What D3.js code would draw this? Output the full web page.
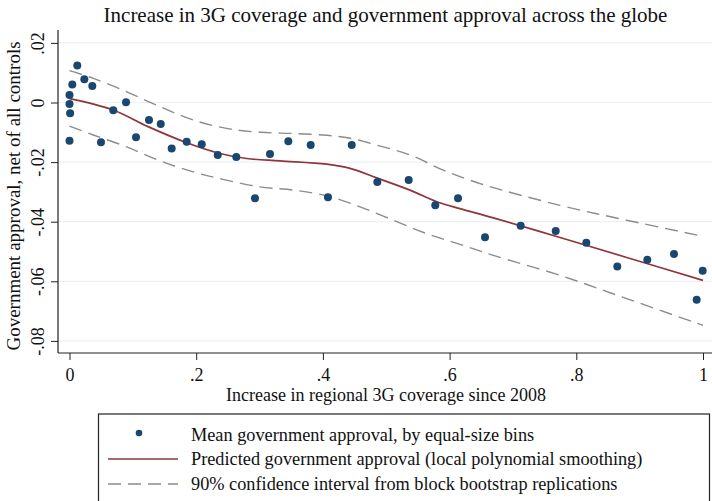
<!DOCTYPE html>
<html>
<head>
<meta charset="utf-8">
<script src="https://cdn.jsdelivr.net/npm/d3@7"></script>
<style>
  html, body { margin: 0; padding: 0; background: #fff; }
  svg { display: block; }
  text { font-family: "Liberation Serif", "Times New Roman", serif; fill: #111; }
</style>
</head>
<body>
<svg id="chart" width="712" height="501"></svg>
<script>
// ---- Data ----
const binX = [0, 0, 0.001, 0, 0.0044, 0.0123, 0.0234, 0.036, 0.0497, 0.0691, 0.0892, 0.105, 0.1255, 0.144, 0.1613, 0.185, 0.2087, 0.234, 0.2633, 0.2928, 0.3165, 0.3454, 0.3807, 0.408, 0.4455, 0.4859, 0.5354, 0.5774, 0.6133, 0.6559, 0.7122, 0.7675, 0.8158, 0.8647, 0.9121, 0.9542, 0.99, 0.9995];
const binY = [0.0025, -0.0005, -0.0036, -0.0128, 0.006, 0.0124, 0.0078, 0.0055, -0.0133, -0.0026, 0.0001, -0.0117, -0.0059, -0.0072, -0.0154, -0.0132, -0.014, -0.0176, -0.0183, -0.0321, -0.0173, -0.013, -0.0143, -0.0318, -0.0143, -0.0267, -0.026, -0.0345, -0.0321, -0.0452, -0.0414, -0.0431, -0.0471, -0.055, -0.0528, -0.0508, -0.0662, -0.0565];

const fitX = [0, 0.0687, 0.124, 0.185, 0.2376, 0.2797, 0.3323, 0.406, 0.4428, 0.4849, 0.5375, 0.5796, 0.6164, 0.669, 0.7743, 0.8796, 1.0];
const fitY = [0.0013, -0.0025, -0.0081, -0.0135, -0.0171, -0.0188, -0.0196, -0.0207, -0.0221, -0.0253, -0.0294, -0.0333, -0.0356, -0.0387, -0.0453, -0.052, -0.0597];

const upX = [0, 0.0376, 0.0903, 0.1429, 0.1954, 0.2481, 0.3007, 0.3533, 0.406, 0.4428, 0.4849, 0.5375, 0.59, 0.648, 0.7743, 0.8796, 1.0];
const upY = [0.0107, 0.0081, 0.0036, -0.0014, -0.0059, -0.0087, -0.01, -0.0104, -0.011, -0.012, -0.0143, -0.0176, -0.0227, -0.0272, -0.0345, -0.0395, -0.0449];

const loX = [0, 0.0376, 0.0903, 0.1429, 0.1954, 0.2423, 0.3007, 0.3533, 0.406, 0.4586, 0.5111, 0.5639, 0.6164, 0.669, 0.7743, 0.8796, 1.0];
const loY = [-0.0079, -0.0109, -0.0149, -0.0196, -0.0233, -0.0258, -0.0283, -0.0294, -0.0313, -0.035, -0.0395, -0.044, -0.0476, -0.0513, -0.058, -0.0658, -0.0748];

const xTicks = [0, 0.2, 0.4, 0.6, 0.8, 1];
const xTickLabels = ["0", ".2", ".4", ".6", ".8", "1"];
const yTicks = [0.02, 0, -0.02, -0.04, -0.06, -0.08];
const yTickLabels = [".02", "0", "-.02", "-.04", "-.06", "-.08"];

const titleText = "Increase in 3G coverage and government approval across the globe";
const xLabel = "Increase in regional 3G coverage since 2008";
const yLabel = "Government approval, net of all controls";
const legendLabels = [
  "Mean government approval, by equal-size bins",
  "Predicted government approval (local polynomial smoothing)",
  "90% confidence interval from block bootstrap replications"
];

// ---- Styles ----
const navy = "#1a476f";
const maroon = "#90353b";
const gray = "#8c8c8c";
const gridColor = "#eaf2f3";

const svg = d3.select("#chart");

const x = d3.scaleLinear().domain([0, 1]).range([69.5, 703]);
const y = d3.scaleLinear().domain([-0.08, 0.02]).range([340.9, 42.9]);

const axisLeftX = 58, axisBottomY = 353, plotTop = 30, plotRight = 712;

// gridlines
svg.append("g").selectAll("line").data(yTicks).join("line")
  .attr("x1", axisLeftX).attr("x2", plotRight)
  .attr("y1", d => y(d)).attr("y2", d => y(d))
  .attr("stroke", gridColor).attr("stroke-width", 1.2);

// axes via d3
const yAxis = d3.axisLeft(y).tickValues(yTicks).tickFormat((d, i) => yTickLabels[i]).tickSize(7).tickPadding(0);
const gy = svg.append("g").attr("transform", `translate(${axisLeftX},0)`).call(yAxis);
gy.select(".domain").attr("d", `M0,${plotTop}V${axisBottomY}`).attr("stroke", "#222").attr("stroke-width", 1.2);
gy.selectAll(".tick line").attr("stroke", "#222").attr("stroke-width", 1);
gy.selectAll(".tick text")
  .attr("font-size", 18)
  .attr("text-anchor", "middle")
  .attr("x", 0).attr("dy", 0)
  .attr("transform", "translate(-14,0) rotate(-90)")
  .attr("y", 0)
  .style("font-family", "Liberation Serif")
  .attr("fill", "#111");

const xAxis = d3.axisBottom(x).tickValues(xTicks).tickFormat((d, i) => xTickLabels[i]).tickSize(7).tickPadding(8);
const gx = svg.append("g").attr("transform", `translate(0,${axisBottomY})`).call(xAxis);
gx.select(".domain").attr("d", `M${axisLeftX},0H${plotRight}`).attr("stroke", "#222").attr("stroke-width", 1.2);
gx.selectAll(".tick line").attr("stroke", "#222").attr("stroke-width", 1);
gx.selectAll(".tick text").attr("font-size", 18).style("font-family", "Liberation Serif").attr("fill", "#111");

// CI dashed lines
const line = d3.line().curve(d3.curveCatmullRom.alpha(0.5));
function pts(xs, ys) { return xs.map((v, i) => [x(v), y(ys[i])]); }

[[upX, upY], [loX, loY]].forEach(([xs, ys]) => {
  svg.append("path").attr("d", line(pts(xs, ys)))
    .attr("fill", "none").attr("stroke", gray).attr("stroke-width", 1.4)
    .attr("stroke-dasharray", "13,7");
});

// fitted line
svg.append("path").attr("d", line(pts(fitX, fitY)))
  .attr("fill", "none").attr("stroke", maroon).attr("stroke-width", 1.7);

// bin dots
svg.append("g").selectAll("circle").data(binX).join("circle")
  .attr("cx", d => x(d)).attr("cy", (d, i) => y(binY[i]))
  .attr("r", 4).attr("fill", navy);

// Title
svg.append("text").attr("x", 385.5).attr("y", 22).attr("text-anchor", "middle")
  .attr("font-size", 21).text(titleText);

// Axis titles
svg.append("text").attr("x", 386).attr("y", 401).attr("text-anchor", "middle")
  .attr("font-size", 18).text(xLabel);
svg.append("text").attr("transform", "translate(20,196) rotate(-90)").attr("text-anchor", "middle")
  .attr("font-size", 19).text(yLabel);

// Legend
const legend = svg.append("g");
legend.append("rect").attr("x", 98.5).attr("y", 414).attr("width", 611).attr("height", 120)
  .attr("fill", "#fff").attr("stroke", "#222").attr("stroke-width", 1.2);
const rowY = [435, 459, 484];
legend.append("circle").attr("cx", 139).attr("cy", rowY[0] - 2).attr("r", 3.3).attr("fill", navy);
legend.append("line").attr("x1", 108).attr("x2", 178).attr("y1", rowY[1]).attr("y2", rowY[1])
  .attr("stroke", maroon).attr("stroke-width", 1.5);
legend.append("line").attr("x1", 108).attr("x2", 178).attr("y1", rowY[2]).attr("y2", rowY[2])
  .attr("stroke", gray).attr("stroke-width", 1.4).attr("stroke-dasharray", "13,7");
legend.selectAll("text.lg").data(legendLabels).join("text").attr("class", "lg")
  .attr("x", 191).attr("y", (d, i) => rowY[i] + 6)
  .attr("font-size", 18.3).text(d => d);
</script>
</body>
</html>
